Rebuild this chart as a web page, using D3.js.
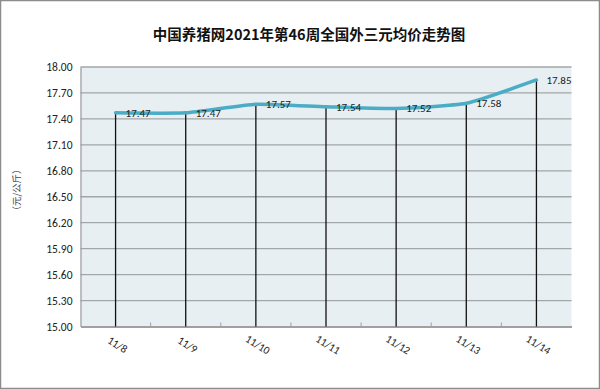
<!DOCTYPE html>
<html>
<head>
<meta charset="utf-8">
<script src="https://cdn.jsdelivr.net/npm/d3@7"></script>
<style>
  body { margin: 0; background: #fff; }
  svg { display: block; }
</style>
</head>
<body>
<div id="chart"></div>
<script>
const dates = ["11/8", "11/9", "11/10", "11/11", "11/12", "11/13", "11/14"];
const prices = [17.47, 17.47, 17.57, 17.54, 17.52, 17.58, 17.85];
const yTicks = [15.00, 15.30, 15.60, 15.90, 16.20, 16.50, 16.80, 17.10, 17.40, 17.70, 18.00];

drawchart()

function drawchart() {
	const W = 600, H = 389;
	const plot = { left: 80.5, right: 571.5, top: 67, bottom: 326.5 };
	const numFont = "Carlito, 'Open Sans', 'DejaVu Sans', sans-serif";

	const svg = d3.select("#chart")
		.append("svg")
		.attr("width", W)
		.attr("height", H);

	// outer border
	svg.append("rect")
		.attr("x", 0.5).attr("y", 0.5)
		.attr("width", W - 1).attr("height", H - 1)
		.attr("fill", "#fff")
		.attr("stroke", "#8c8c8c")
		.attr("stroke-width", 1.5);

	const x = d3.scaleBand()
		.domain(dates)
		.range([plot.left, plot.right]);

	const y = d3.scaleLinear()
		.domain([15, 18])
		.range([plot.bottom, plot.top]);

	// plot background
	svg.append("rect")
		.attr("x", plot.left).attr("y", plot.top)
		.attr("width", plot.right - plot.left)
		.attr("height", plot.bottom - plot.top)
		.attr("fill", "#e8eff3");

	// grid lines
	svg.append("g")
		.selectAll("line")
		.data(yTicks.slice(1))
		.join("line")
		.attr("x1", plot.left).attr("x2", plot.right)
		.attr("y1", d => y(d)).attr("y2", d => y(d))
		.attr("stroke", "#a3a6a8")
		.attr("stroke-width", 1.3);

	// y axis
	const yAxis = svg.append("g")
		.attr("class", "y-axis")
		.attr("transform", `translate(${plot.left},0)`)
		.call(d3.axisLeft(y).tickValues(yTicks).tickFormat(d3.format(".2f")).tickSize(0).tickPadding(8));
	yAxis.select(".domain").attr("stroke", "#9a9a9a").attr("stroke-width", 1.2);
	yAxis.selectAll(".tick text")
		.attr("font-family", numFont)
		.attr("font-size", "11.5px")
		.attr("fill", "#222");

	// x axis
	const xAxis = svg.append("g")
		.attr("class", "x-axis")
		.attr("transform", `translate(0,${plot.bottom})`)
		.call(d3.axisBottom(x).tickSize(0).tickFormat(""));
	xAxis.select(".domain").attr("stroke", "#a0a0a0").attr("stroke-width", 1.8);

	// small tick marks between categories
	svg.append("g")
		.selectAll("line")
		.data(dates.slice(1))
		.join("line")
		.attr("x1", d => x(d)).attr("x2", d => x(d))
		.attr("y1", plot.bottom).attr("y2", plot.bottom - 4)
		.attr("stroke", "#a0a0a0")
		.attr("stroke-width", 1);

	// rotated date labels
	svg.append("g")
		.selectAll("text")
		.data(dates)
		.join("text")
		.attr("transform", d => `translate(${x(d) + x.bandwidth() / 2 + 2},${plot.bottom + 18}) rotate(32)`)
		.attr("text-anchor", "middle")
		.attr("dy", "0.35em")
		.attr("font-family", numFont)
		.attr("font-size", "11px")
		.attr("fill", "#222")
		.text(d => d);

	const cx = d => x(d) + x.bandwidth() / 2;

	// drop lines
	svg.append("g")
		.selectAll("line")
		.data(dates)
		.join("line")
		.attr("x1", d => cx(d)).attr("x2", d => cx(d))
		.attr("y1", (d, i) => y(prices[i])).attr("y2", plot.bottom)
		.attr("stroke", "#111")
		.attr("stroke-width", 1.3);

	// price line
	const line = d3.line()
		.x((d, i) => cx(dates[i]))
		.y(d => y(d))
		.curve(d3.curveCardinal.tension(0.5));

	svg.append("path")
		.datum(prices)
		.attr("d", line)
		.attr("fill", "none")
		.attr("stroke", "#4bacc6")
		.attr("stroke-width", 3.5)
		.attr("stroke-linecap", "round")
		.attr("stroke-linejoin", "round");

	// value labels
	svg.append("g")
		.selectAll("text")
		.data(prices)
		.join("text")
		.attr("x", (d, i) => cx(dates[i]) + 10)
		.attr("y", d => y(d))
		.attr("dy", "0.35em")
		.attr("font-family", numFont)
		.attr("font-size", "11px")
		.attr("fill", "#222")
		.text(d => d.toFixed(2));

	// title
	svg.append("text")
		.attr("x", 309)
		.attr("y", 40)
		.attr("text-anchor", "middle")
		.attr("font-family", "'Noto Sans CJK SC', sans-serif")
		.attr("font-size", "14.5px")
		.attr("font-weight", "bold")
		.attr("fill", "#111")
		.text("中国养猪网2021年第46周全国外三元均价走势图");

	// y axis title
	svg.append("text")
		.attr("transform", `translate(17,190) rotate(-90)`)
		.attr("text-anchor", "middle")
		.attr("dy", "0.35em")
		.attr("font-family", "'Noto Sans CJK SC', sans-serif")
		.attr("font-size", "9.5px")
		.attr("fill", "#444")
		.text("（元/公斤）");
}
</script>
</body>
</html>
